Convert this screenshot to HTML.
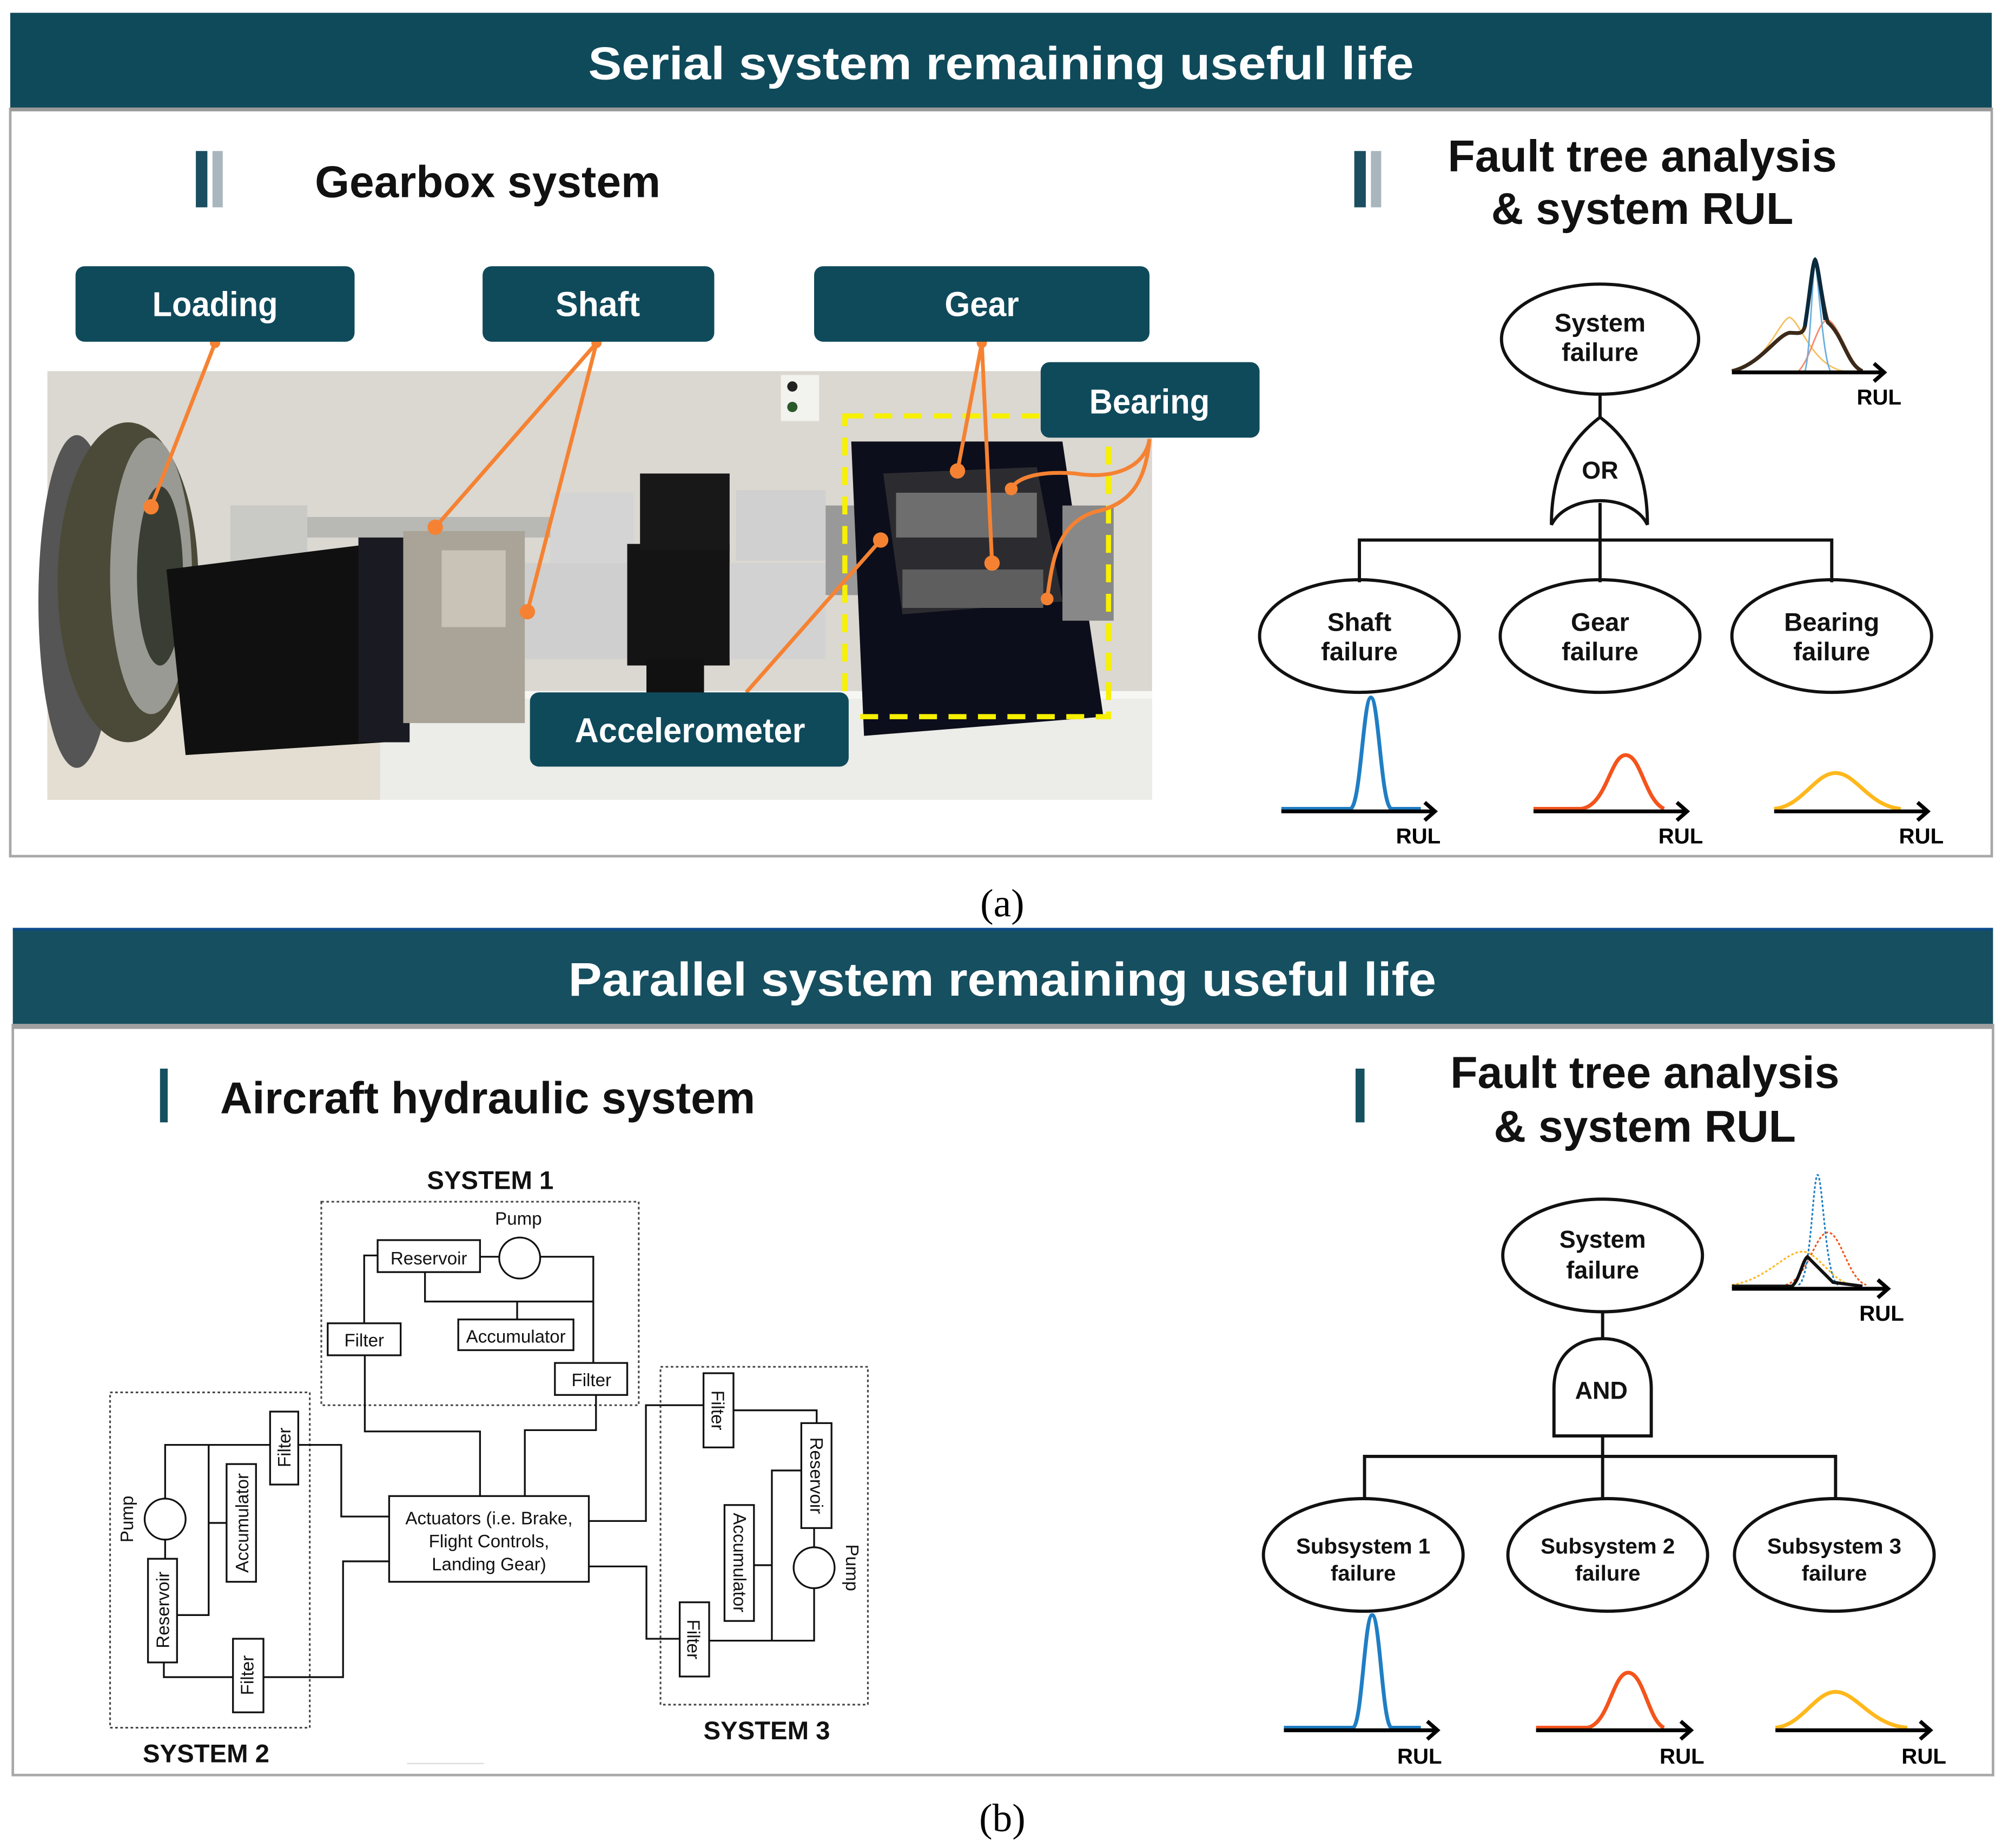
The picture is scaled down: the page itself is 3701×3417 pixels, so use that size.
<!DOCTYPE html>
<html><head><meta charset="utf-8">
<style>
html,body{margin:0;padding:0;background:#fff;}
svg{display:block;}
text{font-family:"Liberation Sans",sans-serif;}
</style></head>
<body>
<svg width="3701" height="3417" viewBox="0 0 1564 1444" xmlns="http://www.w3.org/2000/svg">
<rect width="1564" height="1444" fill="#fff"/>

<!-- ===== TOP PANEL ===== -->
<rect x="8" y="85" width="1548" height="584" fill="#fff" stroke="#a8a8a8" stroke-width="2"/>
<rect x="8" y="10" width="1548" height="75" fill="#0f4a5b"/>
<rect x="8" y="84" width="1548" height="3" fill="#9a9a9a"/>
<text x="782" y="62" font-size="36" font-weight="bold" fill="#fff" text-anchor="middle" textLength="645" lengthAdjust="spacingAndGlyphs">Serial system remaining useful life</text>

<rect x="153" y="118" width="9" height="44" fill="#1a4e60"/>
<rect x="166" y="118" width="8" height="44" fill="#a9b6bd"/>
<text x="246" y="154" font-size="35" font-weight="bold" fill="#111" textLength="270" lengthAdjust="spacingAndGlyphs">Gearbox system</text>
<rect x="1058" y="118" width="9" height="44" fill="#1a4e60"/>
<rect x="1071" y="118" width="8" height="44" fill="#a9b6bd"/>
<text x="1283" y="134" font-size="35" font-weight="bold" fill="#111" text-anchor="middle" textLength="304" lengthAdjust="spacingAndGlyphs">Fault tree analysis</text>
<text x="1283" y="175" font-size="35" font-weight="bold" fill="#111" text-anchor="middle" textLength="236" lengthAdjust="spacingAndGlyphs">&amp; system RUL</text>

<!-- photo approximation -->
<g>
<rect x="37" y="290" width="863" height="335" fill="#dbd7d1"/>
<polygon points="37,520 300,540 300,625 37,625" fill="#e3ddd2"/>
<rect x="297" y="540" width="603" height="85" fill="#ecece8"/>
<rect x="297" y="540" width="603" height="6" fill="#f6f6f3"/>
<rect x="610" y="293" width="30" height="36" fill="#f2f2ee"/>
<circle cx="619" cy="302" r="4" fill="#222"/><circle cx="619" cy="318" r="4" fill="#2a5a2a"/>
<ellipse cx="60" cy="470" rx="30" ry="130" fill="#555"/>
<ellipse cx="100" cy="455" rx="55" ry="125" fill="#4b4a38"/>
<ellipse cx="118" cy="450" rx="32" ry="108" fill="#9a9a94"/>
<ellipse cx="125" cy="450" rx="18" ry="70" fill="#3a3d33"/>
<rect x="180" y="395" width="60" height="45" fill="#c9c9c6"/>
<rect x="240" y="404" width="200" height="16" fill="#b8b8b4"/>
<polygon points="130,445 290,425 300,580 145,590" fill="#101010"/>
<rect x="280" y="420" width="40" height="160" fill="#1a1a22"/>
<rect x="315" y="415" width="95" height="150" fill="#a9a497"/>
<rect x="345" y="430" width="50" height="60" fill="#c8c3b6"/>
<rect x="410" y="440" width="80" height="75" fill="#cfcfcf"/>
<rect x="430" y="385" width="65" height="55" fill="#d4d4d4"/>
<rect x="490" y="425" width="80" height="95" fill="#141414"/>
<rect x="500" y="370" width="70" height="60" fill="#181818"/>
<rect x="505" y="515" width="45" height="30" fill="#111"/>
<rect x="570" y="440" width="75" height="75" fill="#d2d2d2"/>
<rect x="575" y="383" width="70" height="55" fill="#d0d0d0"/>
<rect x="645" y="395" width="30" height="70" fill="#999"/>
<polygon points="665,345 830,345 862,560 675,575" fill="#0c0e1b"/>
<polygon points="690,370 810,365 830,470 705,480" fill="#2c2c30"/>
<rect x="700" y="385" width="110" height="35" fill="#6e6e6e"/>
<rect x="705" y="445" width="110" height="30" fill="#5e5e5e"/>
<rect x="830" y="395" width="40" height="90" fill="#888"/>
</g>
<rect x="660" y="325" width="206" height="235" fill="none" stroke="#f7f000" stroke-width="4" stroke-dasharray="14,9"/>

<!-- orange connectors -->
<g stroke="#f58232" stroke-width="3" fill="none">
<line x1="168" y1="268" x2="118" y2="396"/>
<line x1="466" y1="268" x2="340" y2="412"/>
<line x1="466" y1="268" x2="412" y2="478"/>
<line x1="767" y1="268" x2="748" y2="368"/>
<line x1="767" y1="268" x2="775" y2="440"/>
<line x1="583" y1="541" x2="688" y2="422"/>
<path d="M898,343 C895,365 870,375 840,370 C815,368 795,372 790,382"/>
<path d="M898,343 C895,380 880,395 855,400 C825,410 822,440 818,468"/>
</g>
<g fill="#f58232">
<circle cx="168" cy="268" r="4"/><circle cx="466" cy="268" r="4"/><circle cx="767" cy="268" r="4"/>
<circle cx="118" cy="396" r="6"/><circle cx="340" cy="412" r="6"/><circle cx="412" cy="478" r="6"/>
<circle cx="748" cy="368" r="6"/><circle cx="775" cy="440" r="6"/><circle cx="688" cy="422" r="6"/>
<circle cx="790" cy="382" r="5"/><circle cx="818" cy="468" r="5"/>
</g>

<!-- labels -->
<g fill="#0f4a5b">
<rect x="59" y="208" width="218" height="59" rx="7"/>
<rect x="377" y="208" width="181" height="59" rx="7"/>
<rect x="636" y="208" width="262" height="59" rx="7"/>
<rect x="813" y="283" width="171" height="59" rx="7"/>
<rect x="414" y="541" width="249" height="58" rx="7"/>
</g>
<g fill="#fff" font-size="27" font-weight="bold" text-anchor="middle">
<text x="168" y="247" textLength="98" lengthAdjust="spacingAndGlyphs">Loading</text>
<text x="467" y="247" textLength="66" lengthAdjust="spacingAndGlyphs">Shaft</text>
<text x="767" y="247" textLength="58" lengthAdjust="spacingAndGlyphs">Gear</text>
<text x="898" y="323" textLength="94" lengthAdjust="spacingAndGlyphs">Bearing</text>
<text x="539" y="580" textLength="180" lengthAdjust="spacingAndGlyphs">Accelerometer</text>
</g>

<!-- top fault tree -->
<g stroke="#111" stroke-width="2.5" fill="none">
<ellipse cx="1250" cy="265" rx="77" ry="43"/>
<line x1="1250" y1="308" x2="1250" y2="326"/>
<path d="M1250,326 C1225,345 1212,370 1212,410 C1225,385 1275,385 1287,410 C1287,370 1275,345 1250,326 Z"/>
<line x1="1250" y1="393" x2="1250" y2="422"/>
<polyline points="1062,455 1062,422 1431,422 1431,455"/>
<line x1="1250" y1="422" x2="1250" y2="455"/>
<ellipse cx="1062" cy="497" rx="78" ry="44"/>
<ellipse cx="1250" cy="497" rx="78" ry="44"/>
<ellipse cx="1431" cy="497" rx="78" ry="44"/>
</g>
<g font-size="20" font-weight="bold" fill="#111" text-anchor="middle">
<text x="1250" y="259">System</text><text x="1250" y="282">failure</text>
<text x="1250" y="374" font-size="19">OR</text>
<text x="1062" y="493">Shaft</text><text x="1062" y="516">failure</text>
<text x="1250" y="493">Gear</text><text x="1250" y="516">failure</text>
<text x="1431" y="493">Bearing</text><text x="1431" y="516">failure</text>
</g>
<!-- top system plot -->
<g fill="none" stroke-width="1.2">
<path d="M1353,290 C1380,285 1390,250 1398,248 C1406,250 1415,285 1440,290" stroke="#f5c060"/>
<path d="M1405,290 C1415,280 1420,250 1428,250 C1436,252 1445,285 1455,290" stroke="#f58a70"/>
<path d="M1410,290 C1414,280 1416,210 1418,205 C1420,210 1424,280 1430,290" stroke="#6ab0e0"/>
</g>
<path d="M1353,290 C1375,285 1388,262 1398,260 C1405,260 1408,262 1410,255 C1414,230 1416,205 1418,203 C1420,205 1424,240 1428,252 C1440,262 1443,285 1455,290" fill="none" stroke="#3b2a1a" stroke-width="3"/>
<path d="M1410,255 C1414,230 1416,205 1418,203 C1420,205 1423,230 1426,250" fill="none" stroke="#0a2a3e" stroke-width="3"/>
<line x1="1353" y1="291" x2="1472" y2="291" stroke="#000" stroke-width="3"/>
<polyline points="1464,284 1472,291 1464,298" fill="none" stroke="#000" stroke-width="3"/>
<text x="1468" y="316" font-size="17" font-weight="bold" text-anchor="middle">RUL</text>

<!-- top component plots -->
<path d="M1001,632 L1055,632 C1063,630 1065,545 1071,545 C1077,545 1079,630 1087,632 L1110,632" fill="none" stroke="#1f7ec4" stroke-width="3"/>
<path d="M1198,632 L1235,632 C1255,630 1258,590 1270,590 C1282,590 1285,625 1300,632" fill="none" stroke="#f4541c" stroke-width="3"/>
<path d="M1386,632 C1408,630 1418,604 1434,604 C1450,604 1460,630 1485,632" fill="none" stroke="#ffb81c" stroke-width="3"/>
<g stroke="#000" stroke-width="3" fill="none">
<line x1="1001" y1="634" x2="1121" y2="634"/><polyline points="1113,627 1121,634 1113,641"/>
<line x1="1198" y1="634" x2="1318" y2="634"/><polyline points="1310,627 1318,634 1310,641"/>
<line x1="1386" y1="634" x2="1506" y2="634"/><polyline points="1498,627 1506,634 1498,641"/>
</g>
<g font-size="17" font-weight="bold" text-anchor="middle">
<text x="1108" y="659">RUL</text><text x="1313" y="659">RUL</text><text x="1501" y="659">RUL</text>
</g>

<text x="783" y="716" font-size="31" text-anchor="middle" style="font-family:'Liberation Serif',serif">(a)</text>

<!-- ===== BOTTOM PANEL ===== -->
<rect x="10" y="801" width="1547" height="586" fill="#fff" stroke="#a8a8a8" stroke-width="2"/>
<rect x="10" y="726" width="1547" height="75" fill="#164f60"/>
<rect x="10" y="725" width="1547" height="2" fill="#0a4a8a"/>
<rect x="10" y="800" width="1547" height="4" fill="#a0a0a0"/>
<text x="783" y="778" font-size="37" font-weight="bold" fill="#fff" text-anchor="middle" textLength="678" lengthAdjust="spacingAndGlyphs">Parallel system remaining useful life</text>

<rect x="125" y="835" width="6" height="42" fill="#164f60"/>
<text x="172" y="870" font-size="35" font-weight="bold" fill="#111" textLength="418" lengthAdjust="spacingAndGlyphs">Aircraft hydraulic system</text>
<rect x="1059" y="835" width="7" height="42" fill="#164f60"/>
<text x="1285" y="850" font-size="35" font-weight="bold" fill="#111" text-anchor="middle" textLength="304" lengthAdjust="spacingAndGlyphs">Fault tree analysis</text>
<text x="1285" y="892" font-size="35" font-weight="bold" fill="#111" text-anchor="middle" textLength="236" lengthAdjust="spacingAndGlyphs">&amp; system RUL</text>

<!-- hydraulic diagram -->
<g fill="none" stroke="#444" stroke-width="1.3" stroke-dasharray="2,2">
<rect x="251" y="939" width="248" height="159"/>
<rect x="86" y="1088" width="156" height="262"/>
<rect x="516" y="1068" width="162" height="264"/>
</g>
<g fill="none" stroke="#111" stroke-width="1.4">
<polyline points="295,981 284.5,981 284.5,1034"/>
<line x1="375" y1="982" x2="390" y2="982"/>
<polyline points="422,982 463.5,982 463.5,1065"/>
<polyline points="332,994 332,1017 463.5,1017"/>
<line x1="404" y1="1017" x2="404" y2="1031"/>
<polyline points="285,1059 285,1118.5 375,1118.5 375,1169"/>
<polyline points="465.6,1090 465.6,1117.5 410,1117.5 410,1169"/>
<polyline points="129,1171 129,1129 266.6,1129 266.6,1185 304,1185"/>
<line x1="129" y1="1203" x2="129" y2="1218"/>
<polyline points="163,1129 163,1262 138.3,1262"/>
<line x1="163" y1="1190" x2="177" y2="1190"/>
<polyline points="128,1299 128,1310.5 268,1310.5 268,1220 304,1220"/>
<polyline points="460,1188.5 504.6,1188.5 504.6,1098 549.6,1098"/>
<polyline points="573,1102 638,1102 638,1112"/>
<polyline points="626,1149 603,1149 603,1282"/>
<line x1="589" y1="1223" x2="603" y2="1223"/>
<line x1="636" y1="1194" x2="636" y2="1209"/>
<polyline points="636,1241 636,1282 554,1282"/>
<polyline points="460,1224 505,1224 505,1280.5 531,1280.5"/>
</g>
<g fill="#fff" stroke="#111" stroke-width="1.4">
<rect x="295" y="969" width="80" height="25"/>
<ellipse cx="406" cy="983" rx="16" ry="16"/>
<rect x="358" y="1031" width="90" height="24"/>
<rect x="256" y="1034" width="57" height="25"/>
<rect x="433.5" y="1065" width="56.5" height="25"/>
<rect x="304" y="1169" width="156" height="67"/>
<rect x="211" y="1103" width="22" height="57"/>
<ellipse cx="129" cy="1187" rx="16" ry="16"/>
<rect x="115.6" y="1218" width="22.7" height="81"/>
<rect x="177" y="1144" width="23" height="92"/>
<rect x="182" y="1280.5" width="23.8" height="57.5"/>
<rect x="549.6" y="1073" width="23.4" height="58"/>
<rect x="626" y="1112" width="23.6" height="82"/>
<rect x="566" y="1176" width="23" height="90.6"/>
<ellipse cx="636" cy="1225" rx="16" ry="16"/>
<rect x="531" y="1252" width="23" height="58"/>
</g>
<g font-size="14" fill="#111" text-anchor="middle">
<text x="405" y="957">Pump</text>
<text x="335" y="988">Reservoir</text>
<text x="403" y="1049">Accumulator</text>
<text x="284.5" y="1052">Filter</text>
<text x="462" y="1083">Filter</text>
<text x="382" y="1191">Actuators (i.e. Brake,</text>
<text x="382" y="1209">Flight Controls,</text>
<text x="382" y="1227">Landing Gear)</text>
<text transform="translate(227,1131) rotate(-90)">Filter</text>
<text transform="translate(104,1187) rotate(-90)">Pump</text>
<text transform="translate(132,1258) rotate(-90)">Reservoir</text>
<text transform="translate(194,1190) rotate(-90)">Accumulator</text>
<text transform="translate(198,1309) rotate(-90)">Filter</text>
<text transform="translate(556,1102) rotate(90)">Filter</text>
<text transform="translate(633,1153) rotate(90)">Reservoir</text>
<text transform="translate(573,1221) rotate(90)">Accumulator</text>
<text transform="translate(661,1225) rotate(90)">Pump</text>
<text transform="translate(537,1281) rotate(90)">Filter</text>
</g>
<g font-size="20" font-weight="bold" fill="#111" text-anchor="middle">
<text x="383" y="929">SYSTEM 1</text>
<text x="161" y="1377">SYSTEM 2</text>
<text x="599" y="1359">SYSTEM 3</text>
</g>
<line x1="318" y1="1378" x2="378" y2="1378" stroke="#ddd" stroke-width="1"/>

<!-- bottom fault tree -->
<g stroke="#111" stroke-width="2.5" fill="none">
<ellipse cx="1252" cy="981" rx="78" ry="44"/>
<line x1="1252" y1="1025" x2="1252" y2="1046"/>
<path d="M1214,1122 L1214,1085 C1214,1060 1230,1046 1252,1046 C1274,1046 1290,1060 1290,1085 L1290,1122 Z"/>
<line x1="1252" y1="1122" x2="1252" y2="1172"/>
<polyline points="1066,1172 1066,1138 1434,1138 1434,1172"/>
<ellipse cx="1065" cy="1215" rx="78" ry="44"/>
<ellipse cx="1256" cy="1215" rx="78" ry="44"/>
<ellipse cx="1433" cy="1215" rx="78" ry="44"/>
</g>
<g font-size="19" font-weight="bold" fill="#111" text-anchor="middle">
<text x="1252" y="975">System</text><text x="1252" y="999">failure</text>
<text x="1251" y="1093">AND</text>
<text x="1065" y="1214" font-size="17">Subsystem 1</text><text x="1065" y="1235" font-size="17">failure</text>
<text x="1256" y="1214" font-size="17">Subsystem 2</text><text x="1256" y="1235" font-size="17">failure</text>
<text x="1433" y="1214" font-size="17">Subsystem 3</text><text x="1433" y="1235" font-size="17">failure</text>
</g>
<g fill="none" stroke-width="1.3" stroke-dasharray="2,1.5">
<path d="M1353,1004 C1380,1000 1395,978 1408,978 C1420,978 1430,1000 1446,1004" stroke="#ffb81c"/>
<path d="M1395,1004 C1412,1000 1418,963 1428,963 C1438,963 1444,1000 1458,1004" stroke="#f4541c"/>
<path d="M1405,1004 C1415,1000 1416,920 1420,918 C1424,920 1426,1000 1436,1004" stroke="#1f7ec4"/>
</g>
<path d="M1353,1005 L1400,1005 C1406,1000 1408,985 1412,982 L1432,1002 L1455,1005" fill="none" stroke="#111" stroke-width="2.5"/>
<line x1="1353" y1="1007" x2="1475" y2="1007" stroke="#000" stroke-width="3"/>
<polyline points="1467,1000 1475,1007 1467,1014" fill="none" stroke="#000" stroke-width="3"/>
<text x="1470" y="1032" font-size="17" font-weight="bold" text-anchor="middle">RUL</text>

<path d="M1003,1350 L1057,1350 C1064,1348 1066,1262 1072,1262 C1078,1262 1080,1348 1087,1350 L1110,1350" fill="none" stroke="#1f7ec4" stroke-width="3"/>
<path d="M1200,1350 L1240,1350 C1257,1347 1260,1307 1272,1307 C1284,1307 1288,1345 1300,1350" fill="none" stroke="#f4541c" stroke-width="3"/>
<path d="M1387,1350 C1408,1348 1418,1322 1434,1322 C1450,1322 1462,1348 1490,1350" fill="none" stroke="#ffb81c" stroke-width="3"/>
<g stroke="#000" stroke-width="3" fill="none">
<line x1="1003" y1="1352" x2="1123" y2="1352"/><polyline points="1115,1345 1123,1352 1115,1359"/>
<line x1="1200" y1="1352" x2="1321" y2="1352"/><polyline points="1313,1345 1321,1352 1313,1359"/>
<line x1="1387" y1="1352" x2="1508" y2="1352"/><polyline points="1500,1345 1508,1352 1500,1359"/>
</g>
<g font-size="17" font-weight="bold" text-anchor="middle">
<text x="1109" y="1378">RUL</text><text x="1314" y="1378">RUL</text><text x="1503" y="1378">RUL</text>
</g>

<text x="783" y="1431" font-size="31" text-anchor="middle" style="font-family:'Liberation Serif',serif">(b)</text>
</svg>
</body></html>
